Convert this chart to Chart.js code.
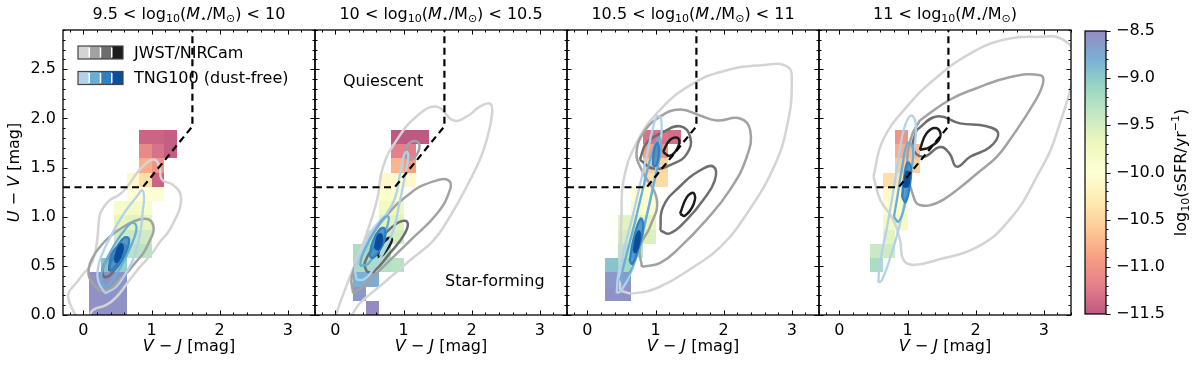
<!DOCTYPE html>
<html>
<head>
<meta charset="utf-8">
<script src="https://cdn.jsdelivr.net/npm/chart.js@4/dist/chart.umd.min.js"></script>
<style>
html, body { margin: 0; padding: 0; background: #fff; }
#wrap { position: relative; width: 1200px; height: 368px; overflow: hidden; background: #fff; }
canvas { position: absolute; top: 0; }
</style>
</head>
<body>
<div id="wrap">
	<canvas id="p0"></canvas>
	<canvas id="p1"></canvas>
	<canvas id="p2"></canvas>
	<canvas id="p3"></canvas>
	<canvas id="cbar"></canvas>
</div>
<script>
// --- data ---

const xRange = [-0.3, 3.4];
const yRange = [0, 2.9];
const ssfrRange = [-11.5, -8.5];

const massPrefix = ['9.5 < ', '10 < ', '10.5 < ', '11 < '];
const massSuffix = [' < 10', ' < 10.5', ' < 11', ''];

// UVJ quiescent boundary
const uvjX = [-0.3, 0.87, 1.6, 1.6];
const uvjY = [1.3, 1.3, 1.92, 2.9];

// sSFR map cells: [V-J centre, U-V centre, log sSFR]
const cellsP1 = [
	[0.91, 1.81, -11.4], [1.095, 1.81, -11.4], [1.28, 1.81, -11.45],
	[0.91, 1.665, -11.1], [1.095, 1.665, -11.3], [1.28, 1.665, -11.45],
	[0.91, 1.52, -10.8], [1.095, 1.52, -11.0],
	[0.725, 1.375, -10.1], [0.91, 1.375, -10.4], [1.095, 1.375, -11.4],
	[0.725, 1.23, -10.0], [0.91, 1.23, -10.0], [1.095, 1.23, -9.95],
	[0.54, 1.085, -9.85], [0.725, 1.085, -9.8], [0.91, 1.085, -9.85],
	[0.54, 0.94, -9.65], [0.725, 0.94, -9.6], [0.91, 0.94, -9.65],
	[0.54, 0.795, -9.45], [0.725, 0.795, -9.4], [0.91, 0.795, -9.45],
	[0.54, 0.65, -9.25], [0.725, 0.65, -9.3], [0.91, 0.65, -9.3],
	[0.355, 0.505, -8.95], [0.54, 0.505, -9.05],
	[0.17, 0.36, -8.55], [0.355, 0.36, -8.55], [0.54, 0.36, -8.55],
	[0.17, 0.215, -8.55], [0.355, 0.215, -8.55], [0.54, 0.215, -8.55],
	[0.17, 0.07, -8.55], [0.355, 0.07, -8.55], [0.54, 0.07, -8.55],
];
const cellsP2 = [
	[0.91, 1.81, -11.5], [1.095, 1.81, -11.5], [1.28, 1.81, -11.5],
	[0.91, 1.665, -11.2], [1.095, 1.665, -11.2],
	[0.91, 1.52, -10.75], [1.095, 1.52, -10.9],
	[0.725, 1.375, -10.1], [0.91, 1.375, -10.05], [1.095, 1.375, -10.1],
	[0.725, 1.23, -9.9], [0.91, 1.23, -9.95],
	[0.725, 1.085, -9.75], [0.91, 1.085, -9.7],
	[0.725, 0.94, -9.6], [0.91, 0.94, -9.6],
	[0.54, 0.795, -9.4], [0.725, 0.795, -9.45], [0.91, 0.795, -9.5],
	[0.355, 0.65, -9.2], [0.54, 0.65, -9.15], [0.725, 0.65, -9.25],
	[0.355, 0.505, -9.2], [0.54, 0.505, -9.2], [0.725, 0.505, -9.25], [0.91, 0.505, -9.3],
	[0.355, 0.36, -8.8], [0.54, 0.36, -8.75],
	[0.355, 0.215, -8.6],
	[0.54, 0.07, -8.5],
];
const cellsP3 = [
	[0.91, 1.81, -11.3], [1.095, 1.81, -11.3], [1.28, 1.81, -11.35],
	[0.91, 1.665, -10.9], [1.095, 1.665, -11.0],
	[0.91, 1.52, -10.6], [1.095, 1.52, -10.5],
	[0.91, 1.375, -10.4], [1.095, 1.375, -10.45],
	[0.725, 1.23, -10.0], [0.91, 1.23, -10.05],
	[0.725, 1.085, -9.85], [0.91, 1.085, -9.9],
	[0.54, 0.94, -9.6], [0.725, 0.94, -9.6], [0.91, 0.94, -9.65],
	[0.54, 0.795, -9.5], [0.725, 0.795, -9.5], [0.91, 0.795, -9.55],
	[0.54, 0.65, -9.3], [0.725, 0.65, -9.3],
	[0.355, 0.505, -8.95], [0.54, 0.505, -9.15],
	[0.355, 0.36, -8.6], [0.54, 0.36, -8.6],
	[0.355, 0.215, -8.55], [0.54, 0.215, -8.55],
];
const cellsP4 = [
	[0.91, 1.81, -11.0],
	[0.91, 1.665, -10.8], [1.095, 1.665, -10.7],
	[0.91, 1.52, -10.6], [1.095, 1.52, -10.55],
	[0.725, 1.375, -10.4], [0.91, 1.375, -10.35],
	[0.725, 1.23, -10.1], [0.91, 1.23, -10.1],
	[0.725, 1.085, -9.95], [0.91, 1.085, -9.9],
	[0.725, 0.94, -9.75], [0.91, 0.94, -9.8],
	[0.725, 0.795, -9.6],
	[0.54, 0.65, -9.4], [0.725, 0.65, -9.45],
	[0.54, 0.505, -9.2],
];

// contours: [level, [[V-J, U-V], ...]]
const jwstP1 = [
	[0, [[-0.08, -0.05], [-0.2, 0.12], [-0.22, 0.22], [-0.1, 0.33], [0.0, 0.42], [0.1, 0.5], [0.16, 0.6], [0.2, 0.75], [0.22, 0.9], [0.24, 1.02], [0.3, 1.1], [0.39, 1.17], [0.52, 1.22], [0.64, 1.3], [0.78, 1.44], [0.93, 1.55], [1.05, 1.58], [1.12, 1.5], [1.15, 1.38], [1.3, 1.33], [1.42, 1.24], [1.42, 1.1], [1.35, 0.98], [1.25, 0.85], [1.12, 0.74], [1.0, 0.62], [0.83, 0.49], [0.65, 0.33], [0.48, 0.18], [0.33, 0.1], [0.14, 0.05], [0.05, -0.05]]],
	[1, [[0.25, 0.24], [0.1, 0.36], [0.08, 0.48], [0.14, 0.59], [0.25, 0.7], [0.39, 0.8], [0.55, 0.88], [0.73, 0.95], [0.9, 0.98], [1.0, 0.95], [1.03, 0.86], [0.97, 0.75], [0.88, 0.63], [0.76, 0.53], [0.64, 0.43], [0.5, 0.34], [0.39, 0.27]]],
	[2, [[0.3, 0.38], [0.28, 0.46], [0.34, 0.56], [0.45, 0.66], [0.56, 0.72], [0.62, 0.7], [0.58, 0.6], [0.48, 0.48], [0.38, 0.4]]],
	[3, [[0.38, 0.45], [0.4, 0.54], [0.48, 0.62], [0.54, 0.64], [0.53, 0.56], [0.45, 0.48]]],
];
const tngP1 = [
	[0, [[0.32, 0.22], [0.22, 0.34], [0.22, 0.5], [0.3, 0.66], [0.4, 0.8], [0.52, 0.95], [0.63, 1.07], [0.72, 1.15], [0.8, 1.22], [0.86, 1.27], [0.89, 1.2], [0.87, 1.05], [0.85, 0.9], [0.8, 0.72], [0.72, 0.55], [0.6, 0.4], [0.47, 0.28]]],
	[1, [[0.29, 0.29], [0.26, 0.4], [0.33, 0.55], [0.46, 0.72], [0.6, 0.86], [0.72, 0.94], [0.78, 0.89], [0.72, 0.74], [0.6, 0.56], [0.47, 0.4], [0.36, 0.3]]],
	[2, [[0.38, 0.46], [0.4, 0.58], [0.5, 0.7], [0.61, 0.79], [0.67, 0.77], [0.63, 0.65], [0.54, 0.53], [0.45, 0.46]]],
	[3, [[0.46, 0.55], [0.49, 0.65], [0.55, 0.72], [0.58, 0.68], [0.54, 0.59], [0.49, 0.54]]],
];
const jwstP2 = [
	[0, [[-0.02, -0.05], [0.12, 0.22], [0.31, 0.56], [0.46, 0.83], [0.61, 1.17], [0.7, 1.51], [0.9, 1.78], [1.19, 2.02], [1.49, 2.12], [1.73, 1.98], [1.93, 2.02], [2.12, 2.12], [2.27, 2.15], [2.3, 2.05], [2.22, 1.78], [2.12, 1.58], [1.93, 1.31], [1.68, 1.0], [1.44, 0.76], [1.1, 0.56], [0.7, 0.32], [0.36, 0.12], [0.17, -0.05]]],
	[1, [[0.26, 0.22], [0.24, 0.39], [0.41, 0.66], [0.7, 0.97], [1.1, 1.24], [1.44, 1.36], [1.66, 1.37], [1.68, 1.27], [1.49, 1.03], [1.1, 0.76], [0.7, 0.49], [0.41, 0.29]]],
	[1, [[1.0, 1.62], [1.05, 1.72], [1.15, 1.77], [1.23, 1.74], [1.2, 1.64], [1.1, 1.58]]],
	[2, [[0.46, 0.44], [0.43, 0.53], [0.61, 0.73], [0.9, 0.93], [1.05, 0.95], [1.02, 0.83], [0.8, 0.63], [0.56, 0.44]]],
	[3, [[0.62, 0.6], [0.66, 0.69], [0.77, 0.78], [0.83, 0.77], [0.76, 0.67], [0.66, 0.59]]],
];
const tngP2 = [
	[0, [[0.31, 0.36], [0.29, 0.49], [0.4, 0.66], [0.51, 0.83], [0.63, 0.94], [0.75, 1.03], [0.88, 1.2], [0.95, 1.44], [1.0, 1.61], [1.05, 1.66], [1.07, 1.61], [1.02, 1.41], [0.95, 1.17], [0.85, 0.86], [0.7, 0.63], [0.51, 0.42], [0.41, 0.36]]],
	[1, [[0.36, 0.5], [0.4, 0.62], [0.55, 0.82], [0.7, 0.98], [0.78, 1.0], [0.75, 0.88], [0.62, 0.68], [0.48, 0.52]]],
	[2, [[0.5, 0.6], [0.55, 0.75], [0.65, 0.87], [0.72, 0.88], [0.72, 0.76], [0.63, 0.64], [0.55, 0.58]]],
	[3, [[0.58, 0.68], [0.62, 0.8], [0.67, 0.82], [0.68, 0.74], [0.63, 0.67]]],
];
const jwstP3 = [
	[0, [[0.48, 0.25], [0.48, 0.53], [0.5, 1.0], [0.53, 1.37], [0.72, 1.75], [1.07, 2.09], [1.56, 2.36], [2.05, 2.49], [2.53, 2.54], [2.93, 2.53], [3.0, 2.36], [2.93, 1.92], [2.74, 1.51], [2.34, 1.03], [1.95, 0.69], [1.56, 0.49], [1.07, 0.29], [0.67, 0.22]]],
	[1, [[0.8, 0.49], [1.07, 0.53], [1.36, 0.69], [1.75, 0.97], [2.09, 1.27], [2.34, 1.61], [2.39, 1.88], [2.24, 2.0], [1.9, 1.98], [1.65, 2.03], [1.36, 2.09], [1.07, 2.02], [0.82, 1.85], [0.72, 1.64], [0.8, 1.47], [1.02, 1.17], [0.92, 0.9], [0.77, 0.69]]],
	[2, [[0.77, 1.58], [0.87, 1.75], [1.11, 1.86], [1.36, 1.92], [1.51, 1.81], [1.46, 1.64], [1.26, 1.54], [0.97, 1.49]]],
	[2, [[1.07, 0.86], [1.11, 1.1], [1.36, 1.31], [1.65, 1.47], [1.85, 1.51], [1.87, 1.37], [1.7, 1.17], [1.46, 0.97], [1.21, 0.83]]],
	[3, [[1.11, 1.66], [1.21, 1.78], [1.33, 1.8], [1.33, 1.71], [1.21, 1.62]]],
	[3, [[1.36, 1.03], [1.46, 1.2], [1.56, 1.24], [1.56, 1.13], [1.43, 1.01]]],
];
const tngP3 = [
	[0, [[0.43, 0.22], [0.45, 0.4], [0.55, 0.7], [0.68, 1.05], [0.78, 1.35], [0.88, 1.65], [0.96, 1.9], [1.02, 2.02], [1.08, 2.0], [1.08, 1.8], [1.0, 1.45], [0.9, 1.1], [0.78, 0.75], [0.65, 0.45], [0.5, 0.25]]],
	[1, [[0.48, 0.35], [0.55, 0.55], [0.7, 0.95], [0.82, 1.3], [0.95, 1.65], [1.05, 1.8], [1.08, 1.7], [0.98, 1.35], [0.85, 0.95], [0.72, 0.6], [0.55, 0.35]]],
	[2, [[0.62, 0.55], [0.68, 0.78], [0.78, 0.98], [0.82, 0.9], [0.75, 0.68], [0.66, 0.52]]],
	[2, [[0.96, 1.52], [0.98, 1.68], [1.03, 1.75], [1.05, 1.65], [1.01, 1.52]]],
	[3, [[0.68, 0.65], [0.72, 0.8], [0.76, 0.85], [0.76, 0.74], [0.71, 0.64]]],
];
const jwstP4 = [
	[0, [[0.5, 1.41], [0.64, 1.78], [0.99, 2.12], [1.43, 2.42], [1.92, 2.66], [2.41, 2.8], [2.9, 2.83], [3.29, 2.8], [3.45, 2.6], [3.19, 1.85], [2.9, 1.41], [2.5, 0.97], [2.02, 0.69], [1.43, 0.56], [1.09, 0.51], [0.94, 0.56], [0.89, 0.76], [0.79, 0.97], [0.6, 1.17]]],
	[1, [[1.18, 1.98], [1.62, 2.19], [2.02, 2.31], [2.5, 2.42], [2.95, 2.44], [2.99, 2.36], [2.85, 2.15], [2.5, 1.78], [2.31, 1.61], [2.02, 1.44], [1.72, 1.27], [1.43, 1.14], [1.18, 1.12], [1.09, 1.2], [1.0, 1.5], [1.05, 1.8]]],
	[2, [[1.13, 1.88], [1.43, 2.02], [1.77, 1.95], [2.16, 1.92], [2.33, 1.85], [2.21, 1.71], [1.92, 1.61], [1.72, 1.51], [1.62, 1.64], [1.48, 1.71], [1.23, 1.61], [1.08, 1.7]]],
	[3, [[1.18, 1.68], [1.28, 1.85], [1.43, 1.9], [1.48, 1.81], [1.33, 1.71]]],
];
const tngP4 = [
	[0, [[0.57, 0.33], [0.6, 0.55], [0.7, 0.9], [0.8, 1.3], [0.88, 1.65], [0.95, 1.9], [1.05, 2.03], [1.12, 1.95], [1.1, 1.7], [1.0, 1.3], [0.88, 0.9], [0.73, 0.55], [0.62, 0.35]]],
	[1, [[0.8, 1.0], [0.85, 1.2], [0.92, 1.5], [1.0, 1.75], [1.08, 1.7], [1.05, 1.45], [0.97, 1.15], [0.87, 0.95]]],
	[2, [[0.92, 1.2], [0.95, 1.4], [1.0, 1.55], [1.05, 1.5], [1.03, 1.3], [0.97, 1.15]]],
	[3, [[0.95, 1.3], [0.98, 1.45], [1.02, 1.45], [1.01, 1.32]]],
];

const regionLabels = [['Quiescent', 0.7, 2.37], ['Star-forming', 2.34, 0.34]];

const panels = [
	{ cells: cellsP1, jwst: jwstP1, tng: tngP1 },
	{ cells: cellsP2, jwst: jwstP2, tng: tngP2 },
	{ cells: cellsP3, jwst: jwstP3, tng: tngP3 },
	{ cells: cellsP4, jwst: jwstP4, tng: tngP4 },
];

// --- styles ---

const FONT = '"DejaVu Sans", sans-serif';
const FS = 16;
const BIN_W = 0.185, BIN_H = 0.145;
const CELL_ALPHA = 0.66;
const grayLevels = ['#d4d4d4', '#a2a2a2', '#6e6e6e', '#1c1c1c'];
const blueLevels = ['#b2d2ec', '#6aaed8', '#2f80c2', '#0a4f99'];
const blueFills = [null, null, 'rgba(66,140,200,0.85)', 'rgba(8,72,150,0.95)'];
const spectral = [
	[158, 1, 66], [213, 62, 79], [244, 109, 67], [253, 174, 97], [254, 224, 139], [255, 255, 191],
	[230, 245, 152], [171, 221, 164], [102, 194, 165], [50, 136, 189], [94, 79, 162],
];

const PANEL_W = 252, LEFT0 = 63, TOP = 30, BOTTOM = 315, H = 368;

// --- helpers ---

function cmap(v, alpha) {
	const t = Math.min(1, Math.max(0, (v - ssfrRange[0]) / (ssfrRange[1] - ssfrRange[0])));
	const f = t * (spectral.length - 1);
	const i = Math.min(spectral.length - 2, Math.floor(f));
	const u = f - i;
	const c = spectral[i].map((a, k) => Math.round(a + (spectral[i + 1][k] - a) * u));
	return `rgba(${c[0]},${c[1]},${c[2]},${alpha})`;
}

function rich(ctx, parts, x, y, size, align) {
	const font = (s) => (s === 'i' ? 'italic ' : '') + (s === 'sub' || s === 'sup' ? Math.round(size * 0.7) : size) + 'px ' + FONT;
	let w = 0;
	parts.forEach(([t, s]) => { ctx.font = font(s); w += ctx.measureText(t).width; });
	let cx = align === 'center' ? x - w / 2 : x;
	ctx.textAlign = 'left';
	ctx.textBaseline = 'middle';
	parts.forEach(([t, s]) => {
		ctx.font = font(s);
		const dy = s === 'sub' ? size * 0.28 : s === 'sup' ? -size * 0.35 : 0;
		ctx.fillText(t, cx, y + dy);
		cx += ctx.measureText(t).width;
	});
}

function titleParts(i) {
	return [
		[massPrefix[i] + 'log', ''], ['10', 'sub'], ['(', ''], ['M', 'i'], ['\u22c6', 'sub'],
		['/M', ''], ['\u2299', 'sub'], [')' + massSuffix[i], ''],
	];
}

function contourSets(pieces, colors, fills, width, baseOrder) {
	return pieces.map(([lvl, pts]) => ({
		data: pts.concat([pts[0]]).map(([x, y]) => ({ x, y })),
		showLine: true,
		pointRadius: 0,
		borderColor: colors[lvl],
		borderWidth: width,
		backgroundColor: fills && fills[lvl] ? fills[lvl] : 'transparent',
		fill: fills && fills[lvl] ? 'shape' : false,
		tension: 0.45,
		clip: 0,
		order: baseOrder - lvl,
	}));
}

function drawTicks(ctx, a, x, y) {
	ctx.strokeStyle = '#000';
	ctx.lineWidth = 1;
	for (let k = Math.ceil(xRange[0] / 0.2); k * 0.2 <= xRange[1] + 1e-9; k++) {
		const px = Math.round(x.getPixelForValue(k * 0.2)) + 0.5;
		const len = k % 5 === 0 ? 4.5 : 2.5;
		ctx.beginPath();
		ctx.moveTo(px, a.bottom); ctx.lineTo(px, a.bottom - len);
		ctx.moveTo(px, a.top); ctx.lineTo(px, a.top + len);
		ctx.stroke();
	}
	for (let k = 0; k * 0.1 <= yRange[1] + 1e-9; k++) {
		const py = Math.round(y.getPixelForValue(k * 0.1)) + 0.5;
		const len = k % 5 === 0 ? 4.5 : 2.5;
		ctx.beginPath();
		ctx.moveTo(a.left, py); ctx.lineTo(a.left + len, py);
		ctx.moveTo(a.right, py); ctx.lineTo(a.right - len, py);
		ctx.stroke();
	}
}

function drawLegend(ctx, a) {
	const rows = [['JWST/NIRCam', grayLevels], ['TNG100 (dust-free)', blueLevels]];
	rows.forEach(([label, cols], r) => {
		const x0 = a.left + 15, yc = a.top + 22.5 + r * 25.5;
		const pw = 11.25, ph = 13;
		cols.forEach((c, k) => {
			ctx.fillStyle = c;
			ctx.fillRect(x0 + k * pw, yc - ph / 2, pw, ph);
			ctx.strokeStyle = '#fff';
			ctx.lineWidth = 1.5;
			if (k > 0) {
				ctx.beginPath();
				ctx.moveTo(x0 + k * pw, yc - ph / 2 + 1.5);
				ctx.lineTo(x0 + k * pw, yc + ph / 2 - 1.5);
				ctx.stroke();
			}
		});
		ctx.strokeStyle = '#444';
		ctx.lineWidth = 1.2;
		ctx.strokeRect(x0, yc - ph / 2, pw * 4, ph);
		ctx.fillStyle = '#000';
		rich(ctx, [[label, '']], x0 + 56, yc + 1, FS, 'left');
	});
}

function panelPlugin(i) {
	const p = panels[i];
	return {
		id: 'uvjPanel' + i,
		beforeDatasetsDraw(chart) {
			const { ctx, chartArea: a, scales: { x, y } } = chart;
			ctx.save();
			ctx.beginPath();
			ctx.rect(a.left, a.top, a.width, a.height);
			ctx.clip();
			p.cells.forEach(([cx, cy, v]) => {
				const x0 = Math.round(x.getPixelForValue(cx - BIN_W / 2));
				const x1 = Math.round(x.getPixelForValue(cx + BIN_W / 2));
				const y0 = Math.round(y.getPixelForValue(cy + BIN_H / 2));
				const y1 = Math.round(y.getPixelForValue(cy - BIN_H / 2));
				ctx.fillStyle = cmap(v, CELL_ALPHA);
				ctx.fillRect(x0, y0, x1 - x0, y1 - y0);
			});
			ctx.restore();
		},
		afterDraw(chart) {
			const { ctx, chartArea: a, scales: { x, y } } = chart;
			ctx.save();
			drawTicks(ctx, a, x, y);
			ctx.strokeStyle = '#000';
			ctx.lineWidth = 1.3;
			ctx.strokeRect(a.left, a.top, a.width, a.height);
			ctx.fillStyle = '#000';
			rich(ctx, titleParts(i), (a.left + a.right) / 2, 15, FS, 'center');
			rich(ctx, [['V', 'i'], [' \u2212 ', ''], ['J', 'i'], [' [mag]', '']], (a.left + a.right) / 2, 347, FS, 'center');
			if (i === 0) {
				ctx.save();
				ctx.translate(15, (a.top + a.bottom) / 2);
				ctx.rotate(-Math.PI / 2);
				rich(ctx, [['U', 'i'], [' \u2212 ', ''], ['V', 'i'], [' [mag]', '']], 0, 0, FS, 'center');
				ctx.restore();
				drawLegend(ctx, a);
			}
			if (i === 1) {
				regionLabels.forEach(([t, vx, vy]) => {
					rich(ctx, [[t, '']], x.getPixelForValue(vx), y.getPixelForValue(vy), FS, 'center');
				});
			}
			ctx.restore();
		},
	};
}

// --- charts ---

panels.forEach((p, i) => {
	const canvas = document.getElementById('p' + i);
	const padL = i === 0 ? 0 : 6, padR = 6;
	const axisW = i === 0 ? LEFT0 : 0;
	canvas.width = axisW + padL + PANEL_W + padR;
	canvas.height = H;
	canvas.style.left = (LEFT0 + PANEL_W * i - axisW - padL) + 'px';

	const datasets = [
		{
			data: uvjX.map((v, k) => ({ x: v, y: uvjY[k] })),
			showLine: true, pointRadius: 0, borderColor: '#000', borderWidth: 2.2,
			borderDash: [7, 4.5], tension: 0, clip: 0, order: 0,
		},
		...contourSets(p.tng, blueLevels, blueFills, 2.3, 10),
		...contourSets(p.jwst, grayLevels, null, 2.5, 20),
	];

	new Chart(canvas, {
		type: 'scatter',
		data: { datasets },
		options: {
			responsive: false,
			animation: false,
			devicePixelRatio: 1,
			layout: { padding: { top: TOP, left: padL, right: padR, bottom: 0 } },
			plugins: { legend: { display: false }, tooltip: { enabled: false } },
			scales: {
				x: {
					type: 'linear', min: xRange[0], max: xRange[1],
					grid: { display: false, drawTicks: false }, border: { display: false },
					ticks: {
						stepSize: 1, includeBounds: false, autoSkip: false, maxRotation: 0, padding: 6,
						color: '#000', font: { family: FONT, size: FS }, callback: (v) => String(v),
					},
					afterFit: (s) => { s.height = H - BOTTOM; },
				},
				y: {
					type: 'linear', min: yRange[0], max: yRange[1], display: i === 0,
					grid: { display: false, drawTicks: false }, border: { display: false },
					ticks: {
						stepSize: 0.5, includeBounds: false, autoSkip: false, padding: 7,
						color: '#000', font: { family: FONT, size: FS }, callback: (v) => v.toFixed(1),
					},
					afterFit: (s) => { s.width = axisW; },
				},
			},
		},
		plugins: [panelPlugin(i)],
	});
});

// colour bar
(function () {
	const canvas = document.getElementById('cbar');
	canvas.width = 120;
	canvas.height = H;
	canvas.style.left = '1080px';
	new Chart(canvas, {
		type: 'scatter',
		data: { datasets: [] },
		options: {
			responsive: false,
			animation: false,
			devicePixelRatio: 1,
			layout: { padding: { top: 31, left: 5, right: 0, bottom: 54 } },
			plugins: { legend: { display: false }, tooltip: { enabled: false } },
			scales: {
				x: { type: 'linear', min: 0, max: 1, display: false },
				y: {
					type: 'linear', position: 'right', min: ssfrRange[0], max: ssfrRange[1],
					grid: { display: false, drawTicks: false }, border: { display: false },
					ticks: {
						stepSize: 0.5, includeBounds: false, autoSkip: false, padding: 10,
						color: '#000', font: { family: FONT, size: FS },
						callback: (v) => (v < 0 ? '\u2212' : '') + Math.abs(v).toFixed(1),
					},
					afterFit: (s) => { s.width = 94; },
				},
			},
		},
		plugins: [{
			id: 'colorbar',
			afterDraw(chart) {
				const { ctx, chartArea: a, scales: { y } } = chart;
				ctx.save();
				const g = ctx.createLinearGradient(0, a.bottom, 0, a.top);
				spectral.forEach((c, k) => {
					g.addColorStop(k / (spectral.length - 1), `rgba(${c[0]},${c[1]},${c[2]},${CELL_ALPHA})`);
				});
				ctx.fillStyle = g;
				ctx.fillRect(a.left, a.top, a.width, a.height);
				ctx.strokeStyle = '#000';
				ctx.lineWidth = 1;
				for (let k = 0; k <= 30; k++) {
					const v = ssfrRange[0] + k * 0.1;
					const py = Math.round(y.getPixelForValue(v)) + 0.5;
					const len = k % 5 === 0 ? 4.5 : 2.5;
					ctx.beginPath();
					ctx.moveTo(a.right, py);
					ctx.lineTo(a.right + len, py);
					ctx.stroke();
				}
				ctx.lineWidth = 1.2;
				ctx.strokeRect(a.left, a.top, a.width, a.height);
				ctx.fillStyle = '#000';
				ctx.translate(102, (a.top + a.bottom) / 2);
				ctx.rotate(-Math.PI / 2);
				rich(ctx, [['log', ''], ['10', 'sub'], ['(sSFR/yr', ''], ['\u22121', 'sup'], [')', '']], 0, 0, FS, 'center');
				ctx.restore();
			},
		}],
	});
})();
</script>
</body>
</html>
